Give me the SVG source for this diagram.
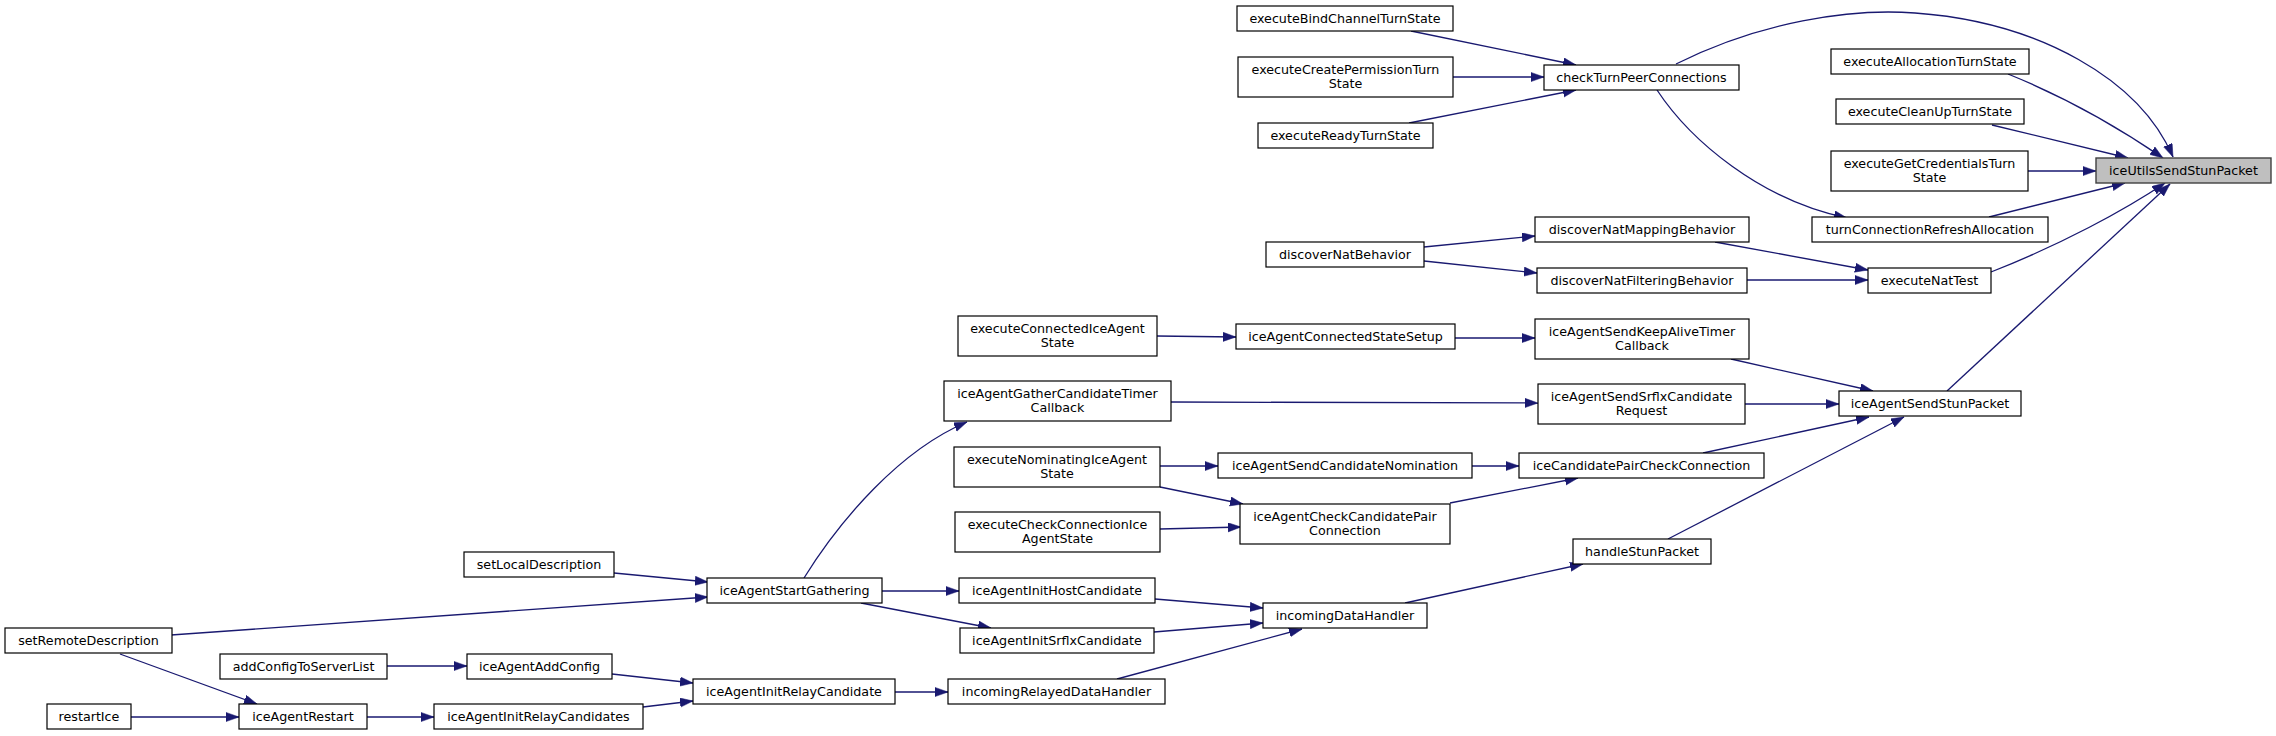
<svg xmlns="http://www.w3.org/2000/svg" width="2276" height="736" viewBox="0 0 2276 736">
<style>
.n rect{fill:#ffffff;stroke:#000000;stroke-width:1.2}
.n.hl rect{fill:#bfbfbf;stroke:#404040;stroke-width:1.4}
.n text{font-family:"DejaVu Sans","Liberation Sans",sans-serif;font-size:12.7px;fill:#000000;text-anchor:middle}
#edges path{fill:none;stroke:#191970;stroke-width:1.3;marker-end:url(#ah)}
</style>
<defs>
<marker id="ah" markerUnits="userSpaceOnUse" markerWidth="14" markerHeight="10" refX="13" refY="4.6" orient="auto">
<path d="M0,0 L13,4.6 L0,9.2 Z" fill="#191970" stroke="#191970" stroke-width="0.5"/>
</marker>
</defs>
<rect width="2276" height="736" fill="#ffffff"/>
<g id="edges">
<path d="M1411,31 L1576,65"/>
<path d="M1453,77 L1544,77"/>
<path d="M1409,123 L1576,90"/>
<path d="M1676,64 C1760,22 1850,8 1915,13 C2040,22 2140,80 2173,157"/>
<path d="M1657,90 C1690,140 1760,200 1847,218"/>
<path d="M2008,74 C2060,95 2115,125 2163,158"/>
<path d="M1992,125 L2128,158"/>
<path d="M2028,171 L2096,171"/>
<path d="M1989,217 L2125,183"/>
<path d="M1991,272 C2060,245 2125,210 2165,183"/>
<path d="M1947,391 L2170,184"/>
<path d="M1424,247 L1535,236"/>
<path d="M1424,261 L1537,273"/>
<path d="M1715,242 L1868,270"/>
<path d="M1747,280 L1868,280"/>
<path d="M1157,336 L1236,337"/>
<path d="M1455,338 L1535,338"/>
<path d="M1731,359 L1873,391"/>
<path d="M1171,402 L1538,403"/>
<path d="M1745,404 L1839,404"/>
<path d="M1160,466 L1218,466"/>
<path d="M1160,487 L1243,504"/>
<path d="M1160,529 L1241,527"/>
<path d="M1472,466 L1519,466"/>
<path d="M1450,503 L1578,478"/>
<path d="M1703,453 L1869,417"/>
<path d="M1668,539 L1904,417"/>
<path d="M1405,603 L1583,564"/>
<path d="M804,578 C840,520 900,450 967,422"/>
<path d="M882,591 L959,591"/>
<path d="M861,603 L991,628"/>
<path d="M1155,599 L1263,608"/>
<path d="M1154,632 L1263,623"/>
<path d="M1117,679 L1302,629"/>
<path d="M614,573 L708,582"/>
<path d="M171,635 L708,597"/>
<path d="M120,654 L257,704"/>
<path d="M387,666 L467,666"/>
<path d="M612,674 L693,683"/>
<path d="M643,707 L693,701"/>
<path d="M895,692 L948,692"/>
<path d="M131,717 L239,717"/>
<path d="M367,717 L434,717"/>
</g>
<g id="iceUtilsSendStunPacket" class="n hl"><rect x="2096" y="158" width="175" height="25"/><text x="2183.5" y="175">iceUtilsSendStunPacket</text></g>
<g id="executeBindChannelTurnState" class="n"><rect x="1237" y="6" width="216" height="25"/><text x="1345" y="23">executeBindChannelTurnState</text></g>
<g id="executeCreatePermissionTurnState" class="n"><rect x="1238" y="57" width="215" height="40"/><text x="1345.5" y="74">executeCreatePermissionTurn</text><text x="1345.5" y="88">State</text></g>
<g id="checkTurnPeerConnections" class="n"><rect x="1544" y="65" width="195" height="25"/><text x="1641.5" y="82">checkTurnPeerConnections</text></g>
<g id="executeReadyTurnState" class="n"><rect x="1258" y="123" width="175" height="25"/><text x="1345.5" y="140">executeReadyTurnState</text></g>
<g id="executeAllocationTurnState" class="n"><rect x="1831" y="49" width="198" height="25"/><text x="1930" y="66">executeAllocationTurnState</text></g>
<g id="executeCleanUpTurnState" class="n"><rect x="1836" y="99" width="188" height="25"/><text x="1930" y="116">executeCleanUpTurnState</text></g>
<g id="executeGetCredentialsTurnState" class="n"><rect x="1831" y="151" width="197" height="40"/><text x="1929.5" y="168">executeGetCredentialsTurn</text><text x="1929.5" y="182">State</text></g>
<g id="turnConnectionRefreshAllocation" class="n"><rect x="1812" y="217" width="236" height="25"/><text x="1930" y="234">turnConnectionRefreshAllocation</text></g>
<g id="discoverNatMappingBehavior" class="n"><rect x="1535" y="217" width="214" height="25"/><text x="1642" y="234">discoverNatMappingBehavior</text></g>
<g id="discoverNatBehavior" class="n"><rect x="1266" y="242" width="158" height="25"/><text x="1345" y="259">discoverNatBehavior</text></g>
<g id="discoverNatFilteringBehavior" class="n"><rect x="1537" y="268" width="210" height="25"/><text x="1642" y="285">discoverNatFilteringBehavior</text></g>
<g id="executeNatTest" class="n"><rect x="1868" y="268" width="123" height="25"/><text x="1929.5" y="285">executeNatTest</text></g>
<g id="executeConnectedIceAgentState" class="n"><rect x="958" y="316" width="199" height="40"/><text x="1057.5" y="333">executeConnectedIceAgent</text><text x="1057.5" y="347">State</text></g>
<g id="iceAgentConnectedStateSetup" class="n"><rect x="1236" y="324" width="219" height="25"/><text x="1345.5" y="341">iceAgentConnectedStateSetup</text></g>
<g id="iceAgentSendKeepAliveTimerCallback" class="n"><rect x="1535" y="319" width="214" height="40"/><text x="1642" y="336">iceAgentSendKeepAliveTimer</text><text x="1642" y="350">Callback</text></g>
<g id="iceAgentGatherCandidateTimerCallback" class="n"><rect x="944" y="381" width="227" height="40"/><text x="1057.5" y="398">iceAgentGatherCandidateTimer</text><text x="1057.5" y="412">Callback</text></g>
<g id="iceAgentSendSrflxCandidateRequest" class="n"><rect x="1538" y="384" width="207" height="40"/><text x="1641.5" y="401">iceAgentSendSrflxCandidate</text><text x="1641.5" y="415">Request</text></g>
<g id="iceAgentSendStunPacket" class="n"><rect x="1839" y="391" width="182" height="25"/><text x="1930" y="408">iceAgentSendStunPacket</text></g>
<g id="executeNominatingIceAgentState" class="n"><rect x="954" y="447" width="206" height="40"/><text x="1057" y="464">executeNominatingIceAgent</text><text x="1057" y="478">State</text></g>
<g id="iceAgentSendCandidateNomination" class="n"><rect x="1218" y="453" width="254" height="25"/><text x="1345" y="470">iceAgentSendCandidateNomination</text></g>
<g id="iceCandidatePairCheckConnection" class="n"><rect x="1519" y="453" width="245" height="25"/><text x="1641.5" y="470">iceCandidatePairCheckConnection</text></g>
<g id="executeCheckConnectionIceAgentState" class="n"><rect x="955" y="512" width="205" height="40"/><text x="1057.5" y="529">executeCheckConnectionIce</text><text x="1057.5" y="543">AgentState</text></g>
<g id="iceAgentCheckCandidatePairConnection" class="n"><rect x="1240" y="504" width="210" height="40"/><text x="1345" y="521">iceAgentCheckCandidatePair</text><text x="1345" y="535">Connection</text></g>
<g id="handleStunPacket" class="n"><rect x="1573" y="539" width="138" height="25"/><text x="1642" y="556">handleStunPacket</text></g>
<g id="setLocalDescription" class="n"><rect x="464" y="552" width="150" height="25"/><text x="539" y="569">setLocalDescription</text></g>
<g id="iceAgentStartGathering" class="n"><rect x="707" y="578" width="175" height="25"/><text x="794.5" y="595">iceAgentStartGathering</text></g>
<g id="iceAgentInitHostCandidate" class="n"><rect x="959" y="578" width="196" height="25"/><text x="1057" y="595">iceAgentInitHostCandidate</text></g>
<g id="incomingDataHandler" class="n"><rect x="1263" y="603" width="164" height="25"/><text x="1345" y="620">incomingDataHandler</text></g>
<g id="setRemoteDescription" class="n"><rect x="5" y="628" width="167" height="25"/><text x="88.5" y="645">setRemoteDescription</text></g>
<g id="iceAgentInitSrflxCandidate" class="n"><rect x="960" y="628" width="194" height="25"/><text x="1057" y="645">iceAgentInitSrflxCandidate</text></g>
<g id="addConfigToServerList" class="n"><rect x="220" y="654" width="167" height="25"/><text x="303.5" y="671">addConfigToServerList</text></g>
<g id="iceAgentAddConfig" class="n"><rect x="467" y="654" width="145" height="25"/><text x="539.5" y="671">iceAgentAddConfig</text></g>
<g id="iceAgentInitRelayCandidate" class="n"><rect x="693" y="679" width="202" height="25"/><text x="794" y="696">iceAgentInitRelayCandidate</text></g>
<g id="incomingRelayedDataHandler" class="n"><rect x="948" y="679" width="217" height="25"/><text x="1056.5" y="696">incomingRelayedDataHandler</text></g>
<g id="restartIce" class="n"><rect x="47" y="704" width="84" height="25"/><text x="89" y="721">restartIce</text></g>
<g id="iceAgentRestart" class="n"><rect x="239" y="704" width="128" height="25"/><text x="303" y="721">iceAgentRestart</text></g>
<g id="iceAgentInitRelayCandidates" class="n"><rect x="434" y="704" width="209" height="25"/><text x="538.5" y="721">iceAgentInitRelayCandidates</text></g>
</svg>
